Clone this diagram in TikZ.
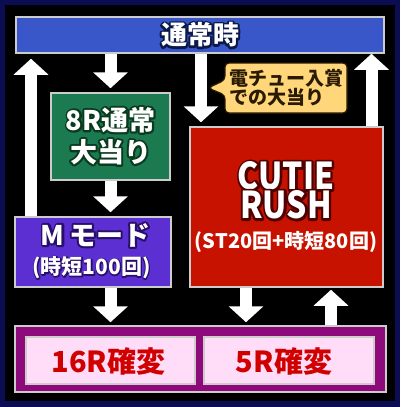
\documentclass[tikz,border=0pt]{standalone}
\usepackage{fontspec}
\newfontfamily\jp{Noto Sans CJK JP}
\newfontfamily\jpn{Noto Sans CJK JP}[FakeStretch=0.86]
\usetikzlibrary{arrows.meta}
\newcommand\olt[3]{\rlap{\special{pdf:code q 1 Tr #2 w 1 J 1 j #1 RG}#3\special{pdf:code Q}}#3}
\definecolor{navy}{HTML}{0C0C55}
\definecolor{barblue}{HTML}{3A57C9}
\definecolor{gr}{HTML}{1B7A4F}
\definecolor{mpur}{HTML}{5B2FD1}
\definecolor{rd}{HTML}{C81200}
\definecolor{bpur}{HTML}{8E0A7B}
\definecolor{pink}{HTML}{FFDCF7}
\definecolor{rtxt}{HTML}{D10000}
\definecolor{yel}{HTML}{FFD77A}
\definecolor{edge}{HTML}{CCCCCC}
\definecolor{ctxt}{HTML}{2A1A00}
\begin{document}
\begin{tikzpicture}[x=1pt,y=-1pt,
  box/.style={draw=edge,line width=1.5pt,inner sep=0pt,anchor=center},
  blk/.style={draw=white,line width=12pt,-{Triangle[width=34pt,length=16pt]}},
  txt/.style={text=white,inner sep=0pt,font=\jp\bfseries}]
\useasboundingbox (0,0) rectangle (400,407);
\fill[navy] (0,0) rectangle (400,407);
\fill[black] (5,5) rectangle (395,401);
% boxes
\node[box,fill=barblue,minimum width=368pt,minimum height=36pt] (bar) at (200,35) {};
\node[box,fill=gr,minimum width=119pt,minimum height=87pt] (g) at (110.5,136.5) {};
\node[box,fill=mpur,minimum width=156pt,minimum height=70pt] (m) at (93,252) {};
\node[box,fill=rd,minimum width=193pt,minimum height=160pt] (r) at (286.5,207) {};
\node[box,fill=bpur,minimum width=371pt,minimum height=66pt] (b) at (200.5,359) {};
\node[box,fill=pink,minimum width=169pt,minimum height=47pt] (p1) at (110.5,360.5) {};
\node[box,fill=pink,minimum width=170pt,minimum height=47pt] (p2) at (289,360.5) {};
% texts
\node[txt,font=\jp\bfseries\fontsize{26}{26}\selectfont] (t1) at (200,35) {\olt{0.04 0.10 0.29}{4}{通常時}};
\node[txt,align=center,font=\jp\bfseries\fontsize{27}{32}\selectfont] (t2) at (110.5,136) {\olt{0.04 0.23 0.12}{4}{8R通常}\\\olt{0.04 0.23 0.12}{4}{大当り}};
\node[txt,font=\jp\bfseries\fontsize{27}{27}\selectfont] (t4) at (95.5,235) {\olt{0.16 0.06 0.42}{4}{M\,モード}};
\node[txt,font=\jp\bfseries\fontsize{21}{21}\selectfont] (t5) at (91.5,268) {\olt{0.16 0.06 0.42}{2}{(時短100回)}};
\node[txt,align=center,font=\jpn\bfseries\fontsize{37}{29}\selectfont] (t6) at (286,190.5) {\olt{0.31 0 0}{4.5}{CUTIE}\\\olt{0.31 0 0}{4.5}{RUSH}};
\node[txt,font=\jp\bfseries\fontsize{20}{20}\selectfont] (t8) at (286,242) {(ST20回+時短80回)};
\node[txt,text=rtxt,font=\jp\bfseries\fontsize{29}{29}\selectfont] (t9) at (108.5,361) {16R確変};
\node[txt,text=rtxt,font=\jp\bfseries\fontsize{29}{29}\selectfont] (t10) at (284,361) {5R確変};
% callout
\draw[fill=yel,draw=ctxt,line width=1.2pt,rounded corners=4pt]
  (225,80) -- (225,63) -- (347,63) -- (347,113) -- (225,113) -- (225,95) -- (208,88) -- cycle;
\node[txt,text=ctxt,anchor=west,align=left,font=\jp\bfseries\fontsize{19}{19}\selectfont] (c1) at (229,87.5) {電チュー入賞\\での大当り};
% arrow coordinates
\coordinate (lx) at (31,0);
\coordinate (dx) at (201,0);
\coordinate (rx) at (371.5,0);
\coordinate (bx) at (246,0);
\coordinate (ux) at (331,0);
% arrows
\draw[blk,shorten >=4pt] (bar.south -| g.north) -- (g.north);
\draw[blk,shorten >=4pt] (g.south) -- (g.south |- m.north);
\draw[blk,shorten >=5pt] (m.north -| lx) -- (bar.south -| lx);
\draw[blk,shorten >=4pt] (bar.south -| dx) -- (r.north -| dx);
\draw[blk] (r.north -| rx) -- (bar.south -| rx);
\draw[blk,shorten >=3pt] (m.south -| g.south) -- (b.north -| g.south);
\draw[blk,shorten >=3pt] (r.south -| bx) -- (b.north -| bx);
\draw[blk,shorten >=2pt] (b.north -| ux) -- (r.south -| ux);
\end{tikzpicture}
\end{document}
